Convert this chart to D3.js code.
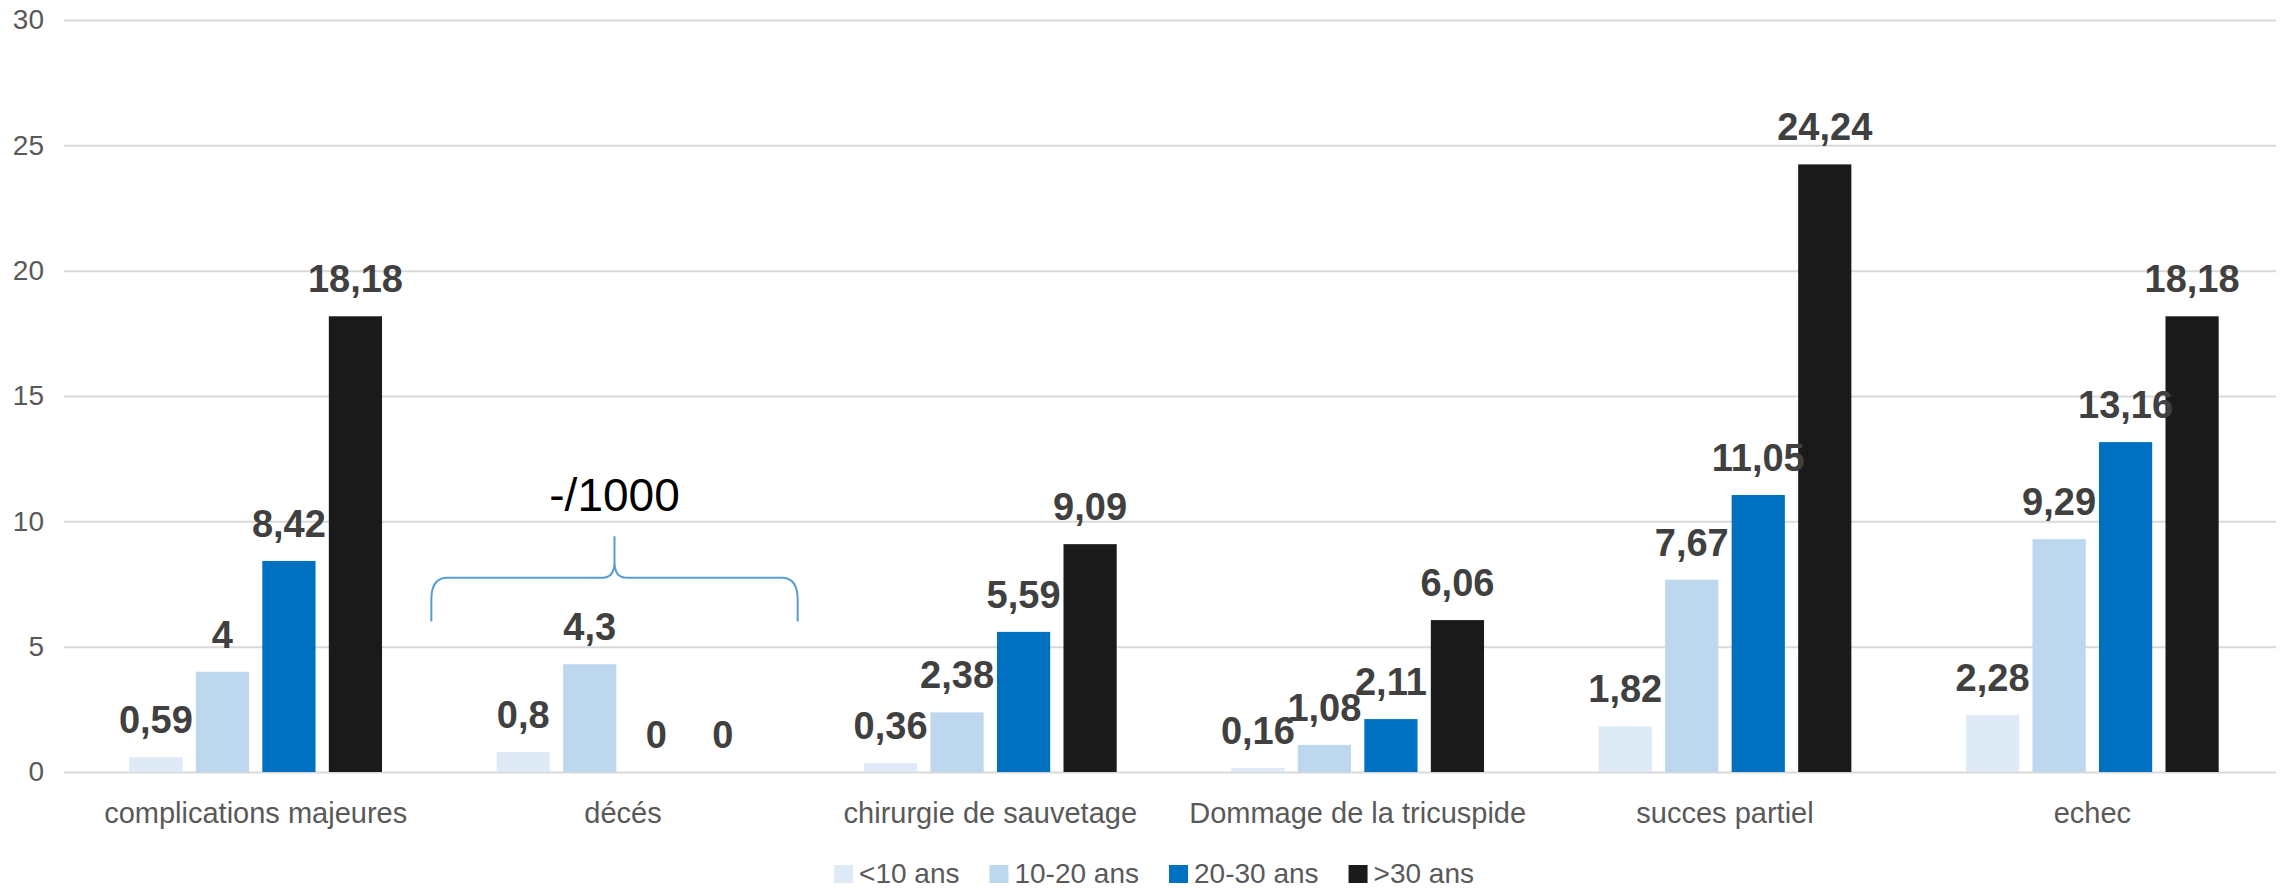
<!DOCTYPE html>
<html lang="fr">
<head>
	<meta charset="utf-8" />
	<title>Complications par âge</title>
	<script src="https://cdnjs.cloudflare.com/ajax/libs/d3/7.8.5/d3.min.js"></script>
	<style>
		html, body { margin: 0; padding: 0; background: #fff; }
		svg { display: block; font-family: "Liberation Sans", Arial, sans-serif; }
	</style>
</head>
<body>
	<svg width="2282" height="889"></svg>
	<script>
		// data
		const categories = ["complications majeures", "décés", "chirurgie de sauvetage",
			"Dommage de la tricuspide", "succes partiel", "echec"];
		const series = ["<10 ans", "10-20 ans", "20-30 ans", ">30 ans"];
		const under10 = [0.59, 0.8, 0.36, 0.16, 1.82, 2.28];
		const from10to20 = [4, 4.3, 2.38, 1.08, 7.67, 9.29];
		const from20to30 = [8.42, 0, 5.59, 2.11, 11.05, 13.16];
		const over30 = [18.18, 0, 9.09, 6.06, 24.24, 18.18];
		const yTicks = [0, 5, 10, 15, 20, 25, 30];
		const colors = ["#DEEAF6", "#BDD7EE", "#0070C0", "#1A1A1A"];
		const note = { cat: "décés", label: "-/1000", base: 6, arm: 7.75, tip: 9.4, text: 10.4 };

		const values = [under10, from10to20, from20to30, over30];
		const rows = [];
		categories.forEach((c, i) => {
			series.forEach((s, j) => rows.push({ cat: c, serie: s, value: values[j][i], color: colors[j] }));
		});

		let svg = d3.select('svg');
		let gridLeft = 64, plotLeft = 72, plotRight = 2276;

		let y = d3.scaleLinear().domain([0, 30]).range([772, 20]);
		let x0 = d3.scaleBand().domain(categories).range([plotLeft, plotRight]);
		let bw = x0.bandwidth();
		let x1 = d3.scaleBand().domain(series)
			.range([bw * 0.156, bw * 0.844])
			.paddingInner(0.2);

		// gridlines + y labels
		let yAxis = svg.append('g')
			.attr('transform', `translate(${gridLeft},0)`)
			.call(d3.axisLeft(y).tickValues(yTicks).tickSize(-(plotRight - gridLeft)).tickPadding(20));
		yAxis.select('.domain').remove();
		yAxis.selectAll('line').attr('stroke', '#D9D9D9').attr('stroke-width', 2);
		yAxis.selectAll('text')
			.attr('fill', '#595959')
			.style('font-size', '28px')
			.style('font-family', '"Liberation Sans", Arial, sans-serif');

		// bars
		svg.selectAll('rect.bar')
			.data(rows)
			.enter()
			.append('rect')
			.attr('class', 'bar')
			.attr('x', d => x0(d.cat) + x1(d.serie))
			.attr('width', x1.bandwidth())
			.attr('y', d => y(d.value))
			.attr('height', d => y(0) - y(d.value))
			.attr('fill', d => d.color);

		// value labels
		svg.selectAll('text.value')
			.data(rows)
			.enter()
			.append('text')
			.attr('class', 'value')
			.attr('text-anchor', 'middle')
			.attr('x', d => x0(d.cat) + x1(d.serie) + x1.bandwidth() / 2)
			.attr('y', d => y(d.value) - 24)
			.attr('fill', '#404040')
			.style('font-size', '38px')
			.style('font-weight', 'bold')
			.text(d => String(d.value).replace('.', ','));

		// category labels
		svg.selectAll('text.cat')
			.data(categories)
			.enter()
			.append('text')
			.attr('class', 'cat')
			.attr('text-anchor', 'middle')
			.attr('x', d => x0(d) + bw / 2)
			.attr('y', 823)
			.attr('fill', '#595959')
			.style('font-size', '29px')
			.text(d => d);

		// brace over "décés"
		let L = x0(note.cat) - 8, R = x0(note.cat) + bw - 9, M = (L + R) / 2;
		let yb = y(note.base), ya = y(note.arm), yt = y(note.tip);
		svg.append('path')
			.attr('d', `M${L},${yb} L${L},${ya + 22} Q${L},${ya} ${L + 16},${ya} L${M - 12},${ya} Q${M},${ya} ${M},${ya - 16} L${M},${yt}` +
				` M${M},${ya - 16} Q${M},${ya} ${M + 12},${ya} L${R - 16},${ya} Q${R},${ya} ${R},${ya + 22} L${R},${yb}`)
			.attr('fill', 'none')
			.attr('stroke', '#5B9BD5')
			.attr('stroke-width', 2);
		svg.append('text')
			.attr('text-anchor', 'middle')
			.attr('x', M)
			.attr('y', y(note.text))
			.attr('fill', '#000')
			.style('font-size', '46px')
			.text(note.label);

		// legend
		let legend = svg.append('g');
		let lx = 0;
		series.forEach((s, j) => {
			let g = legend.append('g').attr('transform', `translate(${lx},0)`);
			g.append('rect').attr('x', 0).attr('y', 865).attr('width', 19).attr('height', 18).attr('fill', colors[j]);
			let t = g.append('text')
				.attr('x', 25)
				.attr('y', 883)
				.attr('fill', '#595959')
				.style('font-size', '28px')
				.text(s);
			lx += 25 + t.node().getComputedTextLength() + 30;
		});
		let legendW = lx - 30;
		legend.attr('transform', `translate(${1154 - legendW / 2},0)`);
	</script>
</body>
</html>
